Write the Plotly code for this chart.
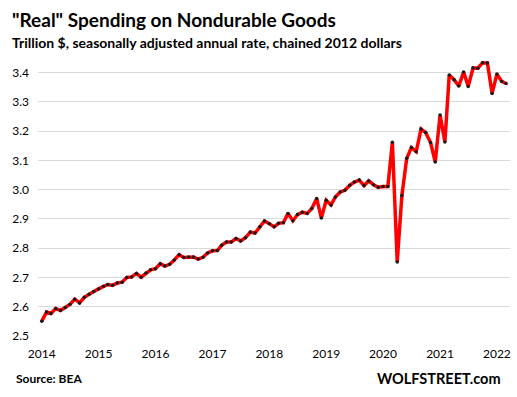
import plotly.graph_objects as go
import pandas as pd

# Monthly, Jan 2014 - Mar 2022, trillion $ (chained 2012 dollars, SAAR)
values = [
    2.550, 2.582, 2.577, 2.594, 2.587, 2.597, 2.608, 2.626, 2.613, 2.632, 2.643, 2.652,  # 2014
    2.661, 2.670, 2.676, 2.673, 2.681, 2.684, 2.700, 2.702, 2.714, 2.701, 2.715, 2.726,  # 2015
    2.730, 2.747, 2.739, 2.745, 2.760, 2.778, 2.768, 2.770, 2.770, 2.763, 2.769, 2.784,  # 2016
    2.791, 2.792, 2.810, 2.821, 2.821, 2.833, 2.825, 2.836, 2.855, 2.852, 2.873, 2.893,  # 2017
    2.884, 2.873, 2.885, 2.887, 2.919, 2.894, 2.915, 2.923, 2.919, 2.936, 2.970, 2.903,  # 2018
    2.964, 2.948, 2.975, 2.992, 2.998, 3.015, 3.026, 3.033, 3.014, 3.030, 3.017, 3.008,  # 2019
    3.011, 3.011, 3.162, 2.753, 2.980, 3.107, 3.144, 3.130, 3.207, 3.195, 3.161, 3.095,  # 2020
    3.255, 3.163, 3.392, 3.376, 3.354, 3.402, 3.353, 3.416, 3.415, 3.434, 3.433, 3.329,  # 2021
    3.395, 3.370, 3.363,                                                                  # 2022
]
dates = pd.date_range("2014-01-01", periods=len(values), freq="MS")
year_ticks = [f"{y}-01-01" for y in range(2014, 2023)]
year_labels = [str(y) for y in range(2014, 2023)]
y_ticks = [2.5, 2.6, 2.7, 2.8, 2.9, 3.0, 3.1, 3.2, 3.3, 3.4]
y_labels = ["2.5", "2.6", "2.7", "2.8", "2.9", "3.0", "3.1", "3.2", "3.3", "3.4"]

title = '"Real" Spending on Nondurable Goods'
subtitle = "Trillion $, seasonally adjusted annual rate, chained 2012 dollars"
source = "Source: BEA"
brand = "WOLFSTREET.com"

W, H = 517, 397
L, R, T, B = 38, 7, 58, 61
pw, ph = W - L - R, H - T - B

def px_x(x):
    return (x - L) / pw

def px_y(y):
    return (H - B - y) / ph

FONT = "Lato"

fig = go.Figure()
fig.add_trace(go.Scatter(
    x=dates, y=values, mode="lines+markers",
    line=dict(color="#ff0000", width=3.5),
    marker=dict(color="#1a1a1a", size=3.5, symbol="circle"),
    showlegend=False, cliponaxis=False,
))

fig.update_layout(
    width=W, height=H,
    margin=dict(l=L, r=R, t=T, b=B),
    paper_bgcolor="white", plot_bgcolor="white",
    font=dict(family=FONT, color="black"),
    xaxis=dict(
        range=["2013-12-08", "2022-03-26"], automargin=False,
        tickvals=year_ticks, ticktext=year_labels,
        showgrid=False, zeroline=False, showline=False,
        ticks="", tickfont=dict(size=12, color="black"),
        ticklabelstandoff=9,
    ),
    yaxis=dict(
        range=[2.5, 3.45], automargin=False,
        tickvals=y_ticks, ticktext=y_labels,
        showgrid=True, gridcolor="#d9d9d9", gridwidth=1,
        zeroline=False, showline=False, ticks="",
        tickfont=dict(size=12, color="black"),
        ticklabelstandoff=8,
    ),
    annotations=[
        dict(text=f"<b>{title}</b>", x=px_x(10), y=px_y(20), xref="paper", yref="paper",
             xanchor="left", yanchor="middle", showarrow=False,
             font=dict(size=19, color="black", family=FONT)),
        dict(text=f"<b>{subtitle}</b>", x=px_x(10), y=px_y(43), xref="paper", yref="paper",
             xanchor="left", yanchor="middle", showarrow=False,
             font=dict(size=14, color="black", family=FONT)),
        dict(text=f"<b>{source}</b>", x=px_x(14), y=px_y(378), xref="paper", yref="paper",
             xanchor="left", yanchor="middle", showarrow=False,
             font=dict(size=12, color="black", family=FONT)),
        dict(text=f"<b>{brand}</b>", x=px_x(503), y=px_y(378), xref="paper", yref="paper",
             xanchor="right", yanchor="middle", showarrow=False,
             font=dict(size=14.5, color="black", family=FONT)),
    ],
)

fig.write_html(
    "out.html",
    config={"displayModeBar": False, "staticPlot": True},
    post_script="document.body.style.margin='0';document.body.style.padding='0';",
)
